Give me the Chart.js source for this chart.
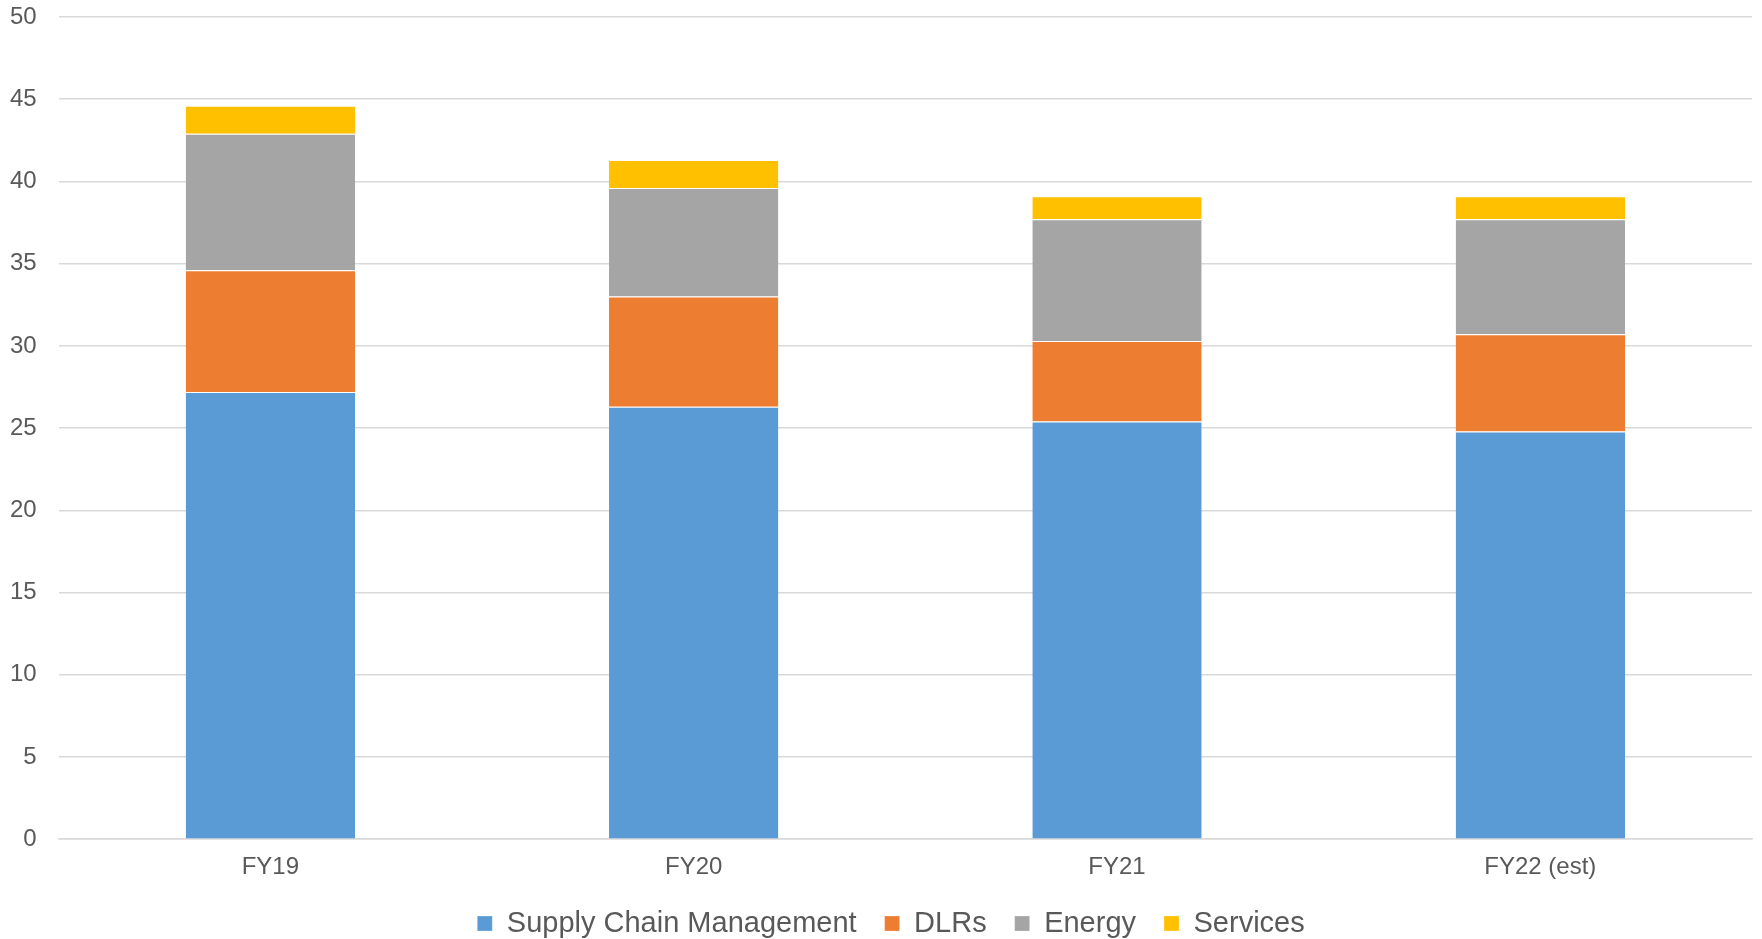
<!DOCTYPE html>
<html>
<head>
<meta charset="utf-8">
<script src="https://cdn.jsdelivr.net/npm/chart.js@4"></script>
<style>
  html, body { margin: 0; padding: 0; background: #fff; }
  #wrap { width: 1762px; height: 939px; }
</style>
</head>
<body>
<div id="wrap"><canvas id="revChart"></canvas></div>
<script>
const categories = ['FY19', 'FY20', 'FY21', 'FY22 (est)'];
const supplyChain = [27.2, 26.3, 25.4, 24.8];
const dlrs = [7.4, 6.7, 4.9, 5.9];
const energy = [8.3, 6.6, 7.4, 7.0];
const services = [1.7, 1.7, 1.4, 1.4];
const yTicks = [0, 5, 10, 15, 20, 25, 30, 35, 40, 45, 50];

Chart.defaults.font.family = '"Liberation Sans", Arial, sans-serif';
Chart.defaults.color = '#595959';

const seg = (label, data, color) => ({
    label: label,
    data: data,
    backgroundColor: color,
    borderColor: '#ffffff',
    borderWidth: { top: 1, left: 0, right: 0, bottom: 0 },
    borderSkipped: false,
    categoryPercentage: 0.4,
    barPercentage: 1.0
});

// nudge the legend a bit to the right, like the original
const legendShift = {
    id: 'legendShift',
    afterLayout(chart) {
        chart.legend.left += 21;
        chart.legend.right += 21;
    }
};

new Chart(document.getElementById('revChart'), {
    type: 'bar',
    data: {
        labels: categories,
        datasets: [
            seg('Supply Chain Management', supplyChain, '#5B9BD5'),
            seg('DLRs', dlrs, '#ED7D31'),
            seg('Energy', energy, '#A5A5A5'),
            seg('Services', services, '#FFC000')
        ]
    },
    plugins: [legendShift],
    options: {
        responsive: true,
        maintainAspectRatio: false,
        animation: false,
        layout: { padding: { left: -12, right: 10, top: 17, bottom: -9 } },
        plugins: {
            tooltip: { enabled: false },
            legend: {
                position: 'bottom',
                labels: {
                    boxWidth: 15,
                    boxHeight: 15,
                    padding: 28,
                    font: { size: 29 },
                    color: '#595959'
                }
            }
        },
        scales: {
            x: {
                stacked: true,
                grid: { display: false, drawTicks: false },
                border: { display: true, color: '#d9d9d9', width: 1.5 },
                ticks: { font: { size: 24 }, padding: 14, color: '#595959' },
                afterFit: axis => { axis.height -= 15; }
            },
            y: {
                stacked: true,
                min: 0,
                max: 50,
                afterBuildTicks: axis => { axis.ticks = yTicks.map(v => ({ value: v })); },
                afterFit: axis => { axis.paddingTop = 0; axis.paddingBottom = 0; },
                grid: { color: '#d9d9d9', lineWidth: 1.5, drawTicks: false },
                border: { display: false },
                ticks: { font: { size: 24 }, padding: 22, color: '#595959' }
            }
        }
    }
});
</script>
</body>
</html>
